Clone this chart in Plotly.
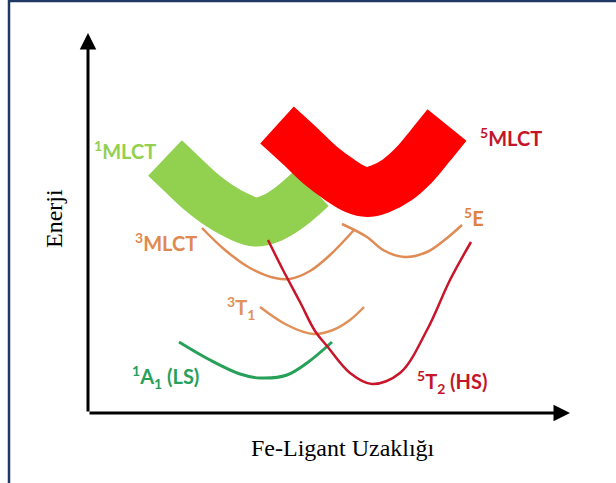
import plotly.graph_objects as go

# Schematic potential-energy curves (x: Fe-ligand distance, y: energy)
mlct1_x = [165, 185, 200, 220, 240, 255, 272, 290, 312]
mlct1_y = [325, 306, 292, 277, 266, 261, 265, 276, 295]

mlct5_x = [277, 300, 320, 340, 355, 367, 380, 397, 415, 430, 447]
mlct5_y = [358, 337, 318, 303, 294, 291, 294, 303, 319, 337, 358]

mlct3_x = [202, 225, 250, 275, 290, 310, 330, 354]
mlct3_y = [255, 233, 215, 205, 204, 212, 228, 253]

e5_x = [342, 367, 383, 405, 427, 447, 462]
e5_y = [259, 246, 233, 226, 231, 245, 258]

t31_x = [260, 287, 313, 333, 350, 364]
t31_y = [176, 158, 149, 153, 163, 176]

a11_x = [179, 210, 240, 260, 287, 307, 332]
a11_y = [141, 123, 109, 105, 108, 120, 141]

t52_x = [268, 283, 300, 315, 327, 350, 372, 400, 427, 450, 471]
t52_y = [243, 213, 181, 152, 137, 110, 99, 110, 153, 203, 241]

label_texts = ["<sup>1</sup>MLCT", "<sup>3</sup>MLCT", "<sup>5</sup>MLCT", "<sup>5</sup>E",
               "<sup>3</sup>T<sub>1</sub>", "<sup>1</sup>A<sub>1</sub> (LS)", "<sup>5</sup>T<sub>2</sub> (HS)"]
label_x = [125, 166, 511, 474, 241, 165, 452]
label_y = [333, 241, 346, 266, 175, 106, 101]
label_colors = ["#92d050", "#e0894f", "#c3162a", "#e0823f", "#e0915a", "#27a05a", "#c3162a"]

x_title = "Fe-Ligant Uzaklığı"
y_title = "Enerji"

fig = go.Figure()

def curve(x, y, color, width):
    fig.add_trace(go.Scatter(x=x, y=y, mode="lines",
                             line=dict(color=color, width=width, shape="spline", smoothing=1.0),
                             hoverinfo="skip", showlegend=False))

curve(mlct1_x, mlct1_y, "#92d050", 49)
curve(mlct5_x, mlct5_y, "#ff0000", 50)
curve(mlct3_x, mlct3_y, "#e08b55", 2.5)
curve(e5_x, e5_y, "#e08b55", 2.5)
curve(t31_x, t31_y, "#e0915a", 2.5)
curve(a11_x, a11_y, "#27a05a", 3)
curve(t52_x, t52_y, "#c8152a", 2.5)

annotations = []
for t, x, y, c in zip(label_texts, label_x, label_y, label_colors):
    annotations.append(dict(x=x, y=y, xref="x", yref="y", text="<b>" + t + "</b>", showarrow=False,
                            font=dict(family="Lato", size=20, color=c),
                            xanchor="center", yanchor="middle"))

# axis arrows
annotations.append(dict(x=88, y=450, ax=88, ay=70, xref="x", yref="y", axref="x", ayref="y",
                        text="", showarrow=True, arrowhead=2, arrowsize=1.1, arrowwidth=3,
                        arrowcolor="black"))
annotations.append(dict(x=570, y=70, ax=88, ay=70, xref="x", yref="y", axref="x", ayref="y",
                        text="", showarrow=True, arrowhead=2, arrowsize=1.1, arrowwidth=3,
                        arrowcolor="black"))
annotations.append(dict(x=343, y=35, xref="x", yref="y", text=x_title, showarrow=False,
                        font=dict(family="Liberation Serif", size=24, color="black")))
annotations.append(dict(x=54, y=264, xref="x", yref="y", text=y_title, showarrow=False, textangle=-90,
                        font=dict(family="Liberation Serif", size=24, color="black")))

shapes = [
    dict(type="line", xref="x", yref="y", x0=9, x1=9, y0=-10, y1=484,
         line=dict(color="#1f3864", width=2.5)),
    dict(type="line", xref="x", yref="y", x0=8, x1=630, y0=482, y1=482,
         line=dict(color="#1f3864", width=2.5)),
]

fig.update_layout(
    width=616, height=483,
    margin=dict(l=0, r=0, t=0, b=0),
    paper_bgcolor="white", plot_bgcolor="white",
    xaxis=dict(range=[0, 616], visible=False, fixedrange=True),
    yaxis=dict(range=[0, 483], visible=False, fixedrange=True),
    annotations=annotations, shapes=shapes,
    showlegend=False,
)

fig.write_html("out.html", config={"displayModeBar": False},
               post_script="document.body.style.margin='0px';document.body.style.overflow='hidden';")
